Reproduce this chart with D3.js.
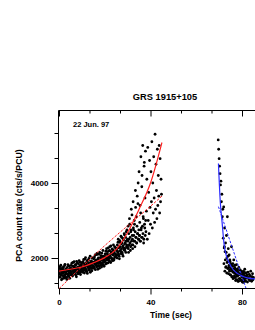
<!DOCTYPE html>
<html>
  <head>
    <meta charset="utf-8">
    <title>GRS 1915+105 light curve</title>
    <script src="https://d3js.org/d3.v7.min.js"></script>
    <style>
      body { margin: 0; background: #fff; }
      svg text { font-family: "Liberation Sans", Arial, sans-serif; font-weight: bold; fill: #000; }
    </style>
  </head>
  <body>
    <div id="chart"></div>
    <script>
    // First flare (rise), time in sec and PCA rate in cts/s/PCU, one row per 5 s
    const riseTime = [
      0, 0.2, 0.4, 0.6, 0.8, 1, 1.2, 1.4, 1.6, 1.8, 2, 2.2, 2.4, 2.6, 2.8, 3, 3.2, 3.4, 3.6, 3.8, 4, 4.2, 4.4, 4.6, 4.8,
      5, 5.2, 5.4, 5.6, 5.8, 6, 6.2, 6.4, 6.6, 6.8, 7, 7.2, 7.4, 7.6, 7.8, 8, 8.2, 8.4, 8.6, 8.8, 9, 9.2, 9.4, 9.6, 9.8,
      10, 10.2, 10.4, 10.6, 10.8, 11, 11.2, 11.4, 11.6, 11.8, 12, 12.2, 12.4, 12.6, 12.8, 13, 13.2, 13.4, 13.6, 13.8, 14, 14.2, 14.4, 14.6, 14.8,
      15, 15.2, 15.4, 15.6, 15.8, 16, 16.2, 16.4, 16.6, 16.8, 17, 17.2, 17.4, 17.6, 17.8, 18, 18.2, 18.4, 18.6, 18.8, 19, 19.2, 19.4, 19.6, 19.8,
      20, 20.2, 20.4, 20.6, 20.8, 21, 21.2, 21.4, 21.6, 21.8, 22, 22.2, 22.4, 22.6, 22.8, 23, 23.2, 23.4, 23.6, 23.8, 24, 24.2, 24.4, 24.6, 24.8,
      25, 25.2, 25.4, 25.6, 25.8, 26, 26.2, 26.4, 26.6, 26.8, 27, 27.2, 27.4, 27.6, 27.8, 28, 28.2, 28.4, 28.6, 28.8, 29, 29.2, 29.4, 29.6, 29.8,
      30, 30.2, 30.4, 30.6, 30.8, 31, 31.2, 31.4, 31.6, 31.8, 32, 32.2, 32.4, 32.6, 32.8, 33, 33.2, 33.4, 33.6, 33.8, 34, 34.2, 34.4, 34.6, 34.8,
      35, 35.2, 35.4, 35.6, 35.8, 36, 36.2, 36.4, 36.6, 36.8, 37, 37.2, 37.4, 37.6, 37.8, 38, 38.2, 38.4, 38.6, 38.8, 39, 39.2, 39.4, 39.6, 39.8,
      40, 40.2, 40.4, 40.6, 40.8, 41, 41.2, 41.4, 41.6, 41.8, 42, 42.2, 42.4, 42.6, 42.8, 43, 43.2, 43.4, 43.6, 43.8, 44, 44.2, 44.4, 44.6, 44.8
    ];
    const riseRate = [
      1580, 1720, 1490, 1650, 1810, 1540, 1620, 1450, 1700, 1590, 1760, 1520, 1640, 1830, 1480, 1610, 1690, 1430, 1750, 1570, 1660, 1510, 1790, 1600, 1680,
      1550, 1720, 1600, 1860, 1540, 1690, 1780, 1630, 1900, 1580, 1740, 1660, 1820, 1500, 1700, 1870, 1620, 1760, 1590, 1930, 1680, 1800, 1560, 1720, 1840,
      1700, 1880, 1620, 1790, 1960, 1680, 1850, 1740, 2010, 1650, 1820, 1900, 1590, 1780, 1940, 1720, 1860, 1680, 2050, 1800, 1740, 1920, 1660, 1880, 1760,
      1790, 1980, 1720, 1900, 2080, 1820, 1950, 1760, 2120, 1860, 1700, 2000, 1880, 1790, 2150, 1920, 1840, 2060, 1760, 1990, 1870, 2200, 1810, 1960, 1900,
      1900, 2110, 1840, 2020, 2250, 1950, 2080, 1870, 2180, 2000, 1920, 2300, 2050, 1880, 2160, 1990, 2240, 1930, 2090, 2350, 1970, 2130, 2020, 2280, 2060,
      2060, 2250, 2000, 2180, 2420, 2100, 2300, 1980, 2460, 2200, 2120, 2380, 2550, 2150, 2300, 2050, 2480, 2260, 2620, 2200, 2400, 2150, 2700, 2350, 2280,
      2300, 2850, 2150, 2500, 3050, 2400, 2200, 2700, 3300, 2350, 2600, 2250, 3500, 2750, 2450, 2900, 2300, 3800, 2550, 3100, 2400, 3650, 2650, 4000, 2500,
      4300, 2600, 3400, 2450, 4700, 2800, 3900, 2550, 5000, 3100, 2400, 4450, 2900, 3600, 4850, 2700, 3250, 4100, 2500, 4950, 3000, 3750, 2650, 4600, 3350,
      2900, 4300, 3500, 5100, 2800, 4000, 3200, 4700, 3600, 2950, 5300, 3300, 4500, 3800, 3050, 4900, 3400, 4200, 3650, 5000, 3200, 4650, 3500, 4100, 3700
    ];
    // the other half of the rise bins (odd tenths)
    const riseTime2 = [
      0.1, 0.3, 0.5, 0.7, 0.9, 1.1, 1.3, 1.5, 1.7, 1.9, 2.1, 2.3, 2.5, 2.7, 2.9, 3.1, 3.3, 3.5, 3.7, 3.9, 4.1, 4.3, 4.5, 4.7, 4.9,
      5.1, 5.3, 5.5, 5.7, 5.9, 6.1, 6.3, 6.5, 6.7, 6.9, 7.1, 7.3, 7.5, 7.7, 7.9, 8.1, 8.3, 8.5, 8.7, 8.9, 9.1, 9.3, 9.5, 9.7, 9.9,
      10.1, 10.3, 10.5, 10.7, 10.9, 11.1, 11.3, 11.5, 11.7, 11.9, 12.1, 12.3, 12.5, 12.7, 12.9, 13.1, 13.3, 13.5, 13.7, 13.9, 14.1, 14.3, 14.5, 14.7, 14.9,
      15.1, 15.3, 15.5, 15.7, 15.9, 16.1, 16.3, 16.5, 16.7, 16.9, 17.1, 17.3, 17.5, 17.7, 17.9, 18.1, 18.3, 18.5, 18.7, 18.9, 19.1, 19.3, 19.5, 19.7, 19.9,
      20.1, 20.3, 20.5, 20.7, 20.9, 21.1, 21.3, 21.5, 21.7, 21.9, 22.1, 22.3, 22.5, 22.7, 22.9, 23.1, 23.3, 23.5, 23.7, 23.9, 24.1, 24.3, 24.5, 24.7, 24.9,
      25.1, 25.3, 25.5, 25.7, 25.9, 26.1, 26.3, 26.5, 26.7, 26.9, 27.1, 27.3, 27.5, 27.7, 27.9, 28.1, 28.3, 28.5, 28.7, 28.9, 29.1, 29.3, 29.5, 29.7, 29.9,
      30.1, 30.3, 30.5, 30.7, 30.9, 31.1, 31.3, 31.5, 31.7, 31.9, 32.1, 32.3, 32.5, 32.7, 32.9, 33.1, 33.3, 33.5, 33.7, 33.9, 34.1, 34.3, 34.5, 34.7, 34.9,
      35.1, 35.3, 35.5, 35.7, 35.9, 36.1, 36.3, 36.5, 36.7, 36.9, 37.1, 37.3, 37.5, 37.7, 37.9
    ];
    const riseRate2 = [
      1640, 1500, 1770, 1560, 1700, 1420, 1600, 1740, 1530, 1680, 1460, 1620, 1800, 1550, 1710, 1590, 1480, 1650, 1570, 1820, 1530, 1690, 1610, 1460, 1730,
      1650, 1800, 1580, 1710, 1520, 1880, 1640, 1760, 1600, 1690, 1820, 1550, 1740, 1910, 1620, 1700, 1580, 1850, 1660, 1750, 1610, 1890, 1700, 1640, 1790,
      1760, 1650, 1900, 1720, 1830, 1600, 1970, 1780, 1700, 1860, 1640, 1930, 1810, 1750, 1680, 1990, 1770, 1850, 1620, 1900, 1830, 1720, 2000, 1790, 1860,
      1880, 1760, 2030, 1850, 1690, 1940, 1810, 2090, 1890, 1780, 1960, 1850, 2100, 1730, 1920, 2010, 1860, 1800, 2130, 1940, 1830, 2050, 1900, 1780, 2020,
      2040, 1930, 2180, 1980, 1860, 2120, 2010, 2270, 1950, 2060, 2200, 1900, 2100, 2320, 2000, 2150, 1960, 2220, 2080, 1940, 2190, 2300, 2030, 2110, 2250,
      2200, 2080, 2350, 2150, 2500, 2270, 2050, 2420, 2300, 2180, 2580, 2250, 2400, 2100, 2520, 2330, 2220, 2650, 2380, 2250, 2550, 2450, 2300, 2750, 2500,
      2450, 2250, 2650, 2350, 2900, 2550, 2300, 2750, 2450, 3150, 2500, 2350, 2800, 2600, 3000, 2450, 2700, 3350, 2550, 2400, 2850, 2650, 3450, 2500, 2750,
      2600, 2950, 2450, 3200, 2750, 2550, 4200, 2850, 2650, 3050, 2500, 4550, 2800, 2600, 3000
    ];

    // Second flare (decay)
    const decayTime = [
      69.6, 69.8, 70, 70.2, 70.4, 70.6, 70.8, 71, 71.2, 71.4, 71.6, 71.8, 72, 72.2, 72.4, 72.6, 72.8, 73, 73.2, 73.4, 73.6, 73.8, 74, 74.2, 74.4,
      74.6, 74.8, 75, 75.2, 75.4, 75.6, 75.8, 76, 76.2, 76.4, 76.6, 76.8, 77, 77.2, 77.4, 77.6, 77.8, 78, 78.2, 78.4, 78.6, 78.8, 79, 79.2, 79.4,
      79.6, 79.8, 80, 80.2, 80.4, 80.6, 80.8, 81, 81.2, 81.4, 81.6, 81.8, 82, 82.2, 82.4, 82.6, 82.8, 83, 83.2, 83.4, 83.6, 83.8, 84, 84.2, 84.4, 84.6, 84.8, 85
    ];
    const decayRate = [
      5150, 4900, 4650, 4450, 4250, 3950, 4050, 3500, 3700, 3100, 3300, 2530, 3360, 2270, 2800, 2170, 2400, 1770, 2600, 2000, 3100, 1900, 2250, 1750, 2080,
      1650, 1900, 1550, 1800, 2300, 1700, 1500, 1850, 1620, 1950, 1480, 1750, 1600, 1400, 1700, 1820, 1520, 1650, 1380, 1600, 1750, 1450, 1560, 1680, 1420,
      1550, 1650, 1400, 1500, 1620, 1350, 1580, 1450, 1700, 1500, 1380, 1600, 1470, 1540, 1360, 1620, 1480, 1430, 1560, 1400, 1520, 1650, 1450, 1380, 1500, 1580, 1420, 1480
    ];
    const decayTime2 = [
      72.1, 72.3, 72.5, 72.7, 72.9, 73.1, 73.3, 73.5, 73.7, 73.9, 74.1, 74.3, 74.5, 74.7, 74.9, 75.1, 75.3, 75.5, 75.7, 75.9, 76.1, 76.3, 76.5, 76.7, 76.9,
      77.1, 77.3, 77.5, 77.7, 77.9, 78.1, 78.3, 78.5, 78.7, 78.9, 79.1, 79.3, 79.5, 79.7, 79.9, 80.1, 80.3, 80.5, 80.7, 80.9, 81.1, 81.3, 81.5, 81.7, 81.9
    ];
    const decayRate2 = [
      1850, 2300, 1650, 1950, 1750, 2150, 1600, 1880, 1720, 2050, 1580, 1800, 1680, 1950, 1550, 1720, 1840, 1500, 1650, 1780, 1450, 1620, 1700, 1530, 1810,
      1480, 1650, 1560, 1420, 1700, 1520, 1600, 1380, 1550, 1680, 1450, 1580, 1400, 1620, 1500, 1360, 1560, 1480, 1640, 1420, 1530, 1390, 1600, 1460, 1500
    ];

    // Fits
    const riseFitTime = [0, 5, 10, 15, 20, 25, 30, 35, 40, 45];
    const riseFitRate = [1650, 1700, 1760, 1870, 2010, 2230, 2680, 3300, 4000, 5080];
    const riseLinTime = [0, 10, 20, 30, 40, 45];
    const riseLinRate = [1180, 1770, 2330, 2860, 3380, 3650];
    const decayFitTime = [69.7, 70.5, 71.3, 72.2, 73.2, 74.3, 76, 78, 80, 82.3, 86];
    const decayFitRate = [4520, 3500, 2950, 2350, 2050, 1880, 1700, 1590, 1520, 1470, 1440];
    const decayLinTime = [69.7, 81.7];
    const decayLinRate = [3370, 1200];

    // Ticks
    const xMajor = [0, 40, 80];
    const xMinor = [13.33, 26.67, 53.33, 66.67];
    const yMajor = [2000, 4000];
    const yMinor = [1333, 2667, 3333, 4667, 5333];

    // Frame of the plot (the right side runs off the page)
    const frame = {left: 58.5, top: 110.5, right: 262, bottom: 288.5};

    const svg = d3.select("#chart")
      .append("svg")
      .attr("width", 255)
      .attr("height", 330);

    const x = d3.scaleLinear().domain([0, 80]).range([59, 242]);
    const y = d3.scaleLinear().domain([2000, 4000]).range([258, 183]);

    svg.append("clipPath")
      .attr("id", "clip")
      .append("rect")
      .attr("x", frame.left)
      .attr("y", frame.top)
      .attr("width", frame.right - frame.left)
      .attr("height", frame.bottom - frame.top);

    // Axes
    function styleAxis(g) {
      g.select(".domain").remove();
      g.attr("font-family", null).attr("font-size", null);
      g.selectAll("line").attr("stroke", "#000");
      g.selectAll("text").style("font-size", "8px");
    }

    svg.append("g")
      .attr("transform", "translate(0," + frame.bottom + ")")
      .call(d3.axisBottom(x).tickValues(xMajor).tickSize(6).tickPadding(5))
      .call(styleAxis);
    svg.append("g")
      .attr("transform", "translate(0," + frame.bottom + ")")
      .call(d3.axisBottom(x).tickValues(xMinor).tickSize(3).tickFormat(""))
      .call(styleAxis);
    // top axis, ticks pointing inward
    svg.append("g")
      .attr("transform", "translate(0," + frame.top + ")")
      .call(d3.axisBottom(x).tickValues(xMajor).tickSize(6).tickFormat(""))
      .call(styleAxis);
    svg.append("g")
      .attr("transform", "translate(0," + frame.top + ")")
      .call(d3.axisBottom(x).tickValues(xMinor).tickSize(3).tickFormat(""))
      .call(styleAxis);

    svg.append("g")
      .attr("transform", "translate(" + frame.left + ",0)")
      .call(d3.axisLeft(y).tickValues(yMajor).tickSize(7).tickPadding(3).tickFormat(d3.format("d")))
      .call(styleAxis);
    svg.append("g")
      .attr("transform", "translate(" + frame.left + ",0)")
      .call(d3.axisLeft(y).tickValues(yMinor).tickSize(4).tickFormat(""))
      .call(styleAxis);

    // Frame lines
    svg.append("path")
      .attr("d", "M" + frame.right + "," + frame.top + "H" + frame.left + "V" + frame.bottom + "H" + frame.right)
      .attr("fill", "none")
      .attr("stroke", "#000")
      .attr("stroke-width", 1);

    const plot = svg.append("g").attr("clip-path", "url(#clip)");

    // Data points
    const pair = (times, rates) => times.map((t, i) => [t, rates[i]]);
    const points = pair(riseTime, riseRate)
      .concat(pair(riseTime2, riseRate2))
      .concat(pair(decayTime, decayRate))
      .concat(pair(decayTime2, decayRate2));
    plot.selectAll(".dot")
      .data(points)
      .enter()
      .append("circle")
      .attr("class", "dot")
      .attr("cx", d => x(d[0]))
      .attr("cy", d => y(d[1]))
      .attr("r", 1.4)
      .attr("fill", "#000");

    // Fit curves
    const line = d3.line().x(d => x(d[0])).y(d => y(d[1])).curve(d3.curveMonotoneX);
    function drawFit(times, rates, color, dash) {
      plot.append("path")
        .datum(pair(times, rates))
        .attr("d", line)
        .attr("fill", "none")
        .attr("stroke", color)
        .attr("stroke-width", dash ? 1 : 1.2)
        .attr("stroke-dasharray", dash ? "2.5,1.5" : null);
    }
    drawFit(riseLinTime, riseLinRate, "#ff2020", true);
    drawFit(riseFitTime, riseFitRate, "#ff2020", false);
    drawFit(decayLinTime, decayLinRate, "#2a2aff", true);
    drawFit(decayFitTime, decayFitRate, "#2a2aff", false);

    // Titles and labels
    svg.append("text")
      .attr("x", 165)
      .attr("y", 100)
      .attr("text-anchor", "middle")
      .style("font-size", "9.3px")
      .text("GRS 1915+105");
    svg.append("text")
      .attr("x", 73)
      .attr("y", 127)
      .style("font-size", "7.5px")
      .text("22 Jun. 97");
    svg.append("text")
      .attr("x", 171)
      .attr("y", 318)
      .attr("text-anchor", "middle")
      .style("font-size", "8.5px")
      .text("Time (sec)");
    svg.append("text")
      .attr("transform", "translate(21.5,205.5)rotate(-90)")
      .attr("text-anchor", "middle")
      .style("font-size", "8.8px")
      .text("PCA count rate (cts/s/PCU)");
    </script>
  </body>
</html>
